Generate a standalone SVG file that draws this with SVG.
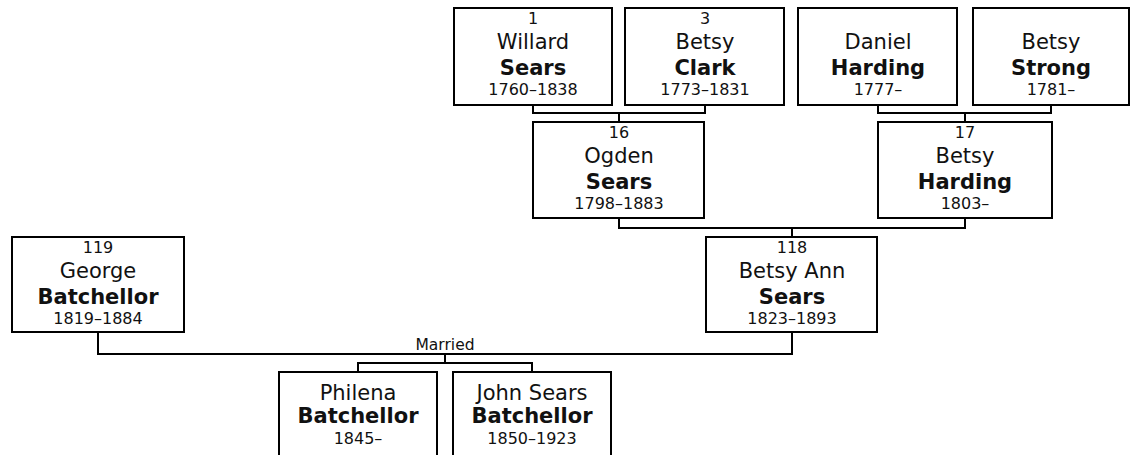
<svg xmlns="http://www.w3.org/2000/svg" width="1131" height="455" viewBox="0 0 1131 455">
<style>
  .box { fill: #ffffff; stroke: #000000; stroke-width: 2; }
  .ln { fill: none; stroke: #000000; stroke-width: 2; }
  text { font-family: "DejaVu Sans", Verdana, "Liberation Sans", sans-serif; text-anchor: middle; fill: #111111; }
  .num { font-size: 16px; }
  .given { font-size: 21px; }
  .sur { font-size: 21px; font-weight: bold; }
  .date { font-size: 16px; }
  .lbl { font-size: 15.5px; }
</style>
<rect x="0" y="0" width="1131" height="455" fill="#ffffff"/>
<g id="connectors">
  <polyline class="ln" points="533,106 533,113 705,113 705,106"/>
  <line class="ln" x1="619" y1="113" x2="619" y2="122"/>
  <polyline class="ln" points="878,106 878,113 1051,113 1051,106"/>
  <line class="ln" x1="965" y1="113" x2="965" y2="122"/>
  <polyline class="ln" points="619,219 619,228 965,228 965,219"/>
  <line class="ln" x1="792" y1="228" x2="792" y2="237"/>
  <polyline class="ln" points="98,333 98,354 792,354 792,333"/>
  <line class="ln" x1="445" y1="354" x2="445" y2="363"/>
  <polyline class="ln" points="358,372 358,363 532,363 532,372"/>
  <text class="lbl" x="445" y="350">Married</text>
</g>
<g id="n1">
  <rect class="box" x="454" y="8" width="158" height="97"/>
  <text class="num" x="533" y="23.5">1</text>
  <text class="given" x="533" y="49">Willard</text>
  <text class="sur" x="533" y="75">Sears</text>
  <text class="date" x="533" y="95">1760–1838</text>
</g>
<g id="n3">
  <rect class="box" x="625" y="8" width="159" height="97"/>
  <text class="num" x="705" y="23.5">3</text>
  <text class="given" x="705" y="49">Betsy</text>
  <text class="sur" x="705" y="75">Clark</text>
  <text class="date" x="705" y="95">1773–1831</text>
</g>
<g id="nDaniel">
  <rect class="box" x="798" y="8" width="159" height="97"/>
  <text class="given" x="878" y="49">Daniel</text>
  <text class="sur" x="878" y="75">Harding</text>
  <text class="date" x="878" y="95">1777–</text>
</g>
<g id="nStrong">
  <rect class="box" x="973" y="8" width="156" height="97"/>
  <text class="given" x="1051" y="49">Betsy</text>
  <text class="sur" x="1051" y="75">Strong</text>
  <text class="date" x="1051" y="95">1781–</text>
</g>
<g id="n16">
  <rect class="box" x="533" y="122" width="171" height="96"/>
  <text class="num" x="619" y="137.5">16</text>
  <text class="given" x="619" y="163">Ogden</text>
  <text class="sur" x="619" y="189">Sears</text>
  <text class="date" x="619" y="209">1798–1883</text>
</g>
<g id="n17">
  <rect class="box" x="878" y="122" width="174" height="96"/>
  <text class="num" x="965" y="137.5">17</text>
  <text class="given" x="965" y="163">Betsy</text>
  <text class="sur" x="965" y="189">Harding</text>
  <text class="date" x="965" y="209">1803–</text>
</g>
<g id="n119">
  <rect class="box" x="12" y="237" width="172" height="95"/>
  <text class="num" x="98" y="252.5">119</text>
  <text class="given" x="98" y="278">George</text>
  <text class="sur" x="98" y="304">Batchellor</text>
  <text class="date" x="98" y="324">1819–1884</text>
</g>
<g id="n118">
  <rect class="box" x="706" y="237" width="171" height="95"/>
  <text class="num" x="792" y="252.5">118</text>
  <text class="given" x="792" y="278">Betsy Ann</text>
  <text class="sur" x="792" y="304">Sears</text>
  <text class="date" x="792" y="324">1823–1893</text>
</g>
<g id="nPhilena">
  <rect class="box" x="279" y="372" width="158" height="100"/>
  <text class="given" x="358" y="400">Philena</text>
  <text class="sur" x="358" y="423">Batchellor</text>
  <text class="date" x="358" y="444">1845–</text>
</g>
<g id="nJohn">
  <rect class="box" x="453" y="372" width="158" height="100"/>
  <text class="given" x="532" y="400">John Sears</text>
  <text class="sur" x="532" y="423">Batchellor</text>
  <text class="date" x="532" y="444">1850–1923</text>
</g>
</svg>
